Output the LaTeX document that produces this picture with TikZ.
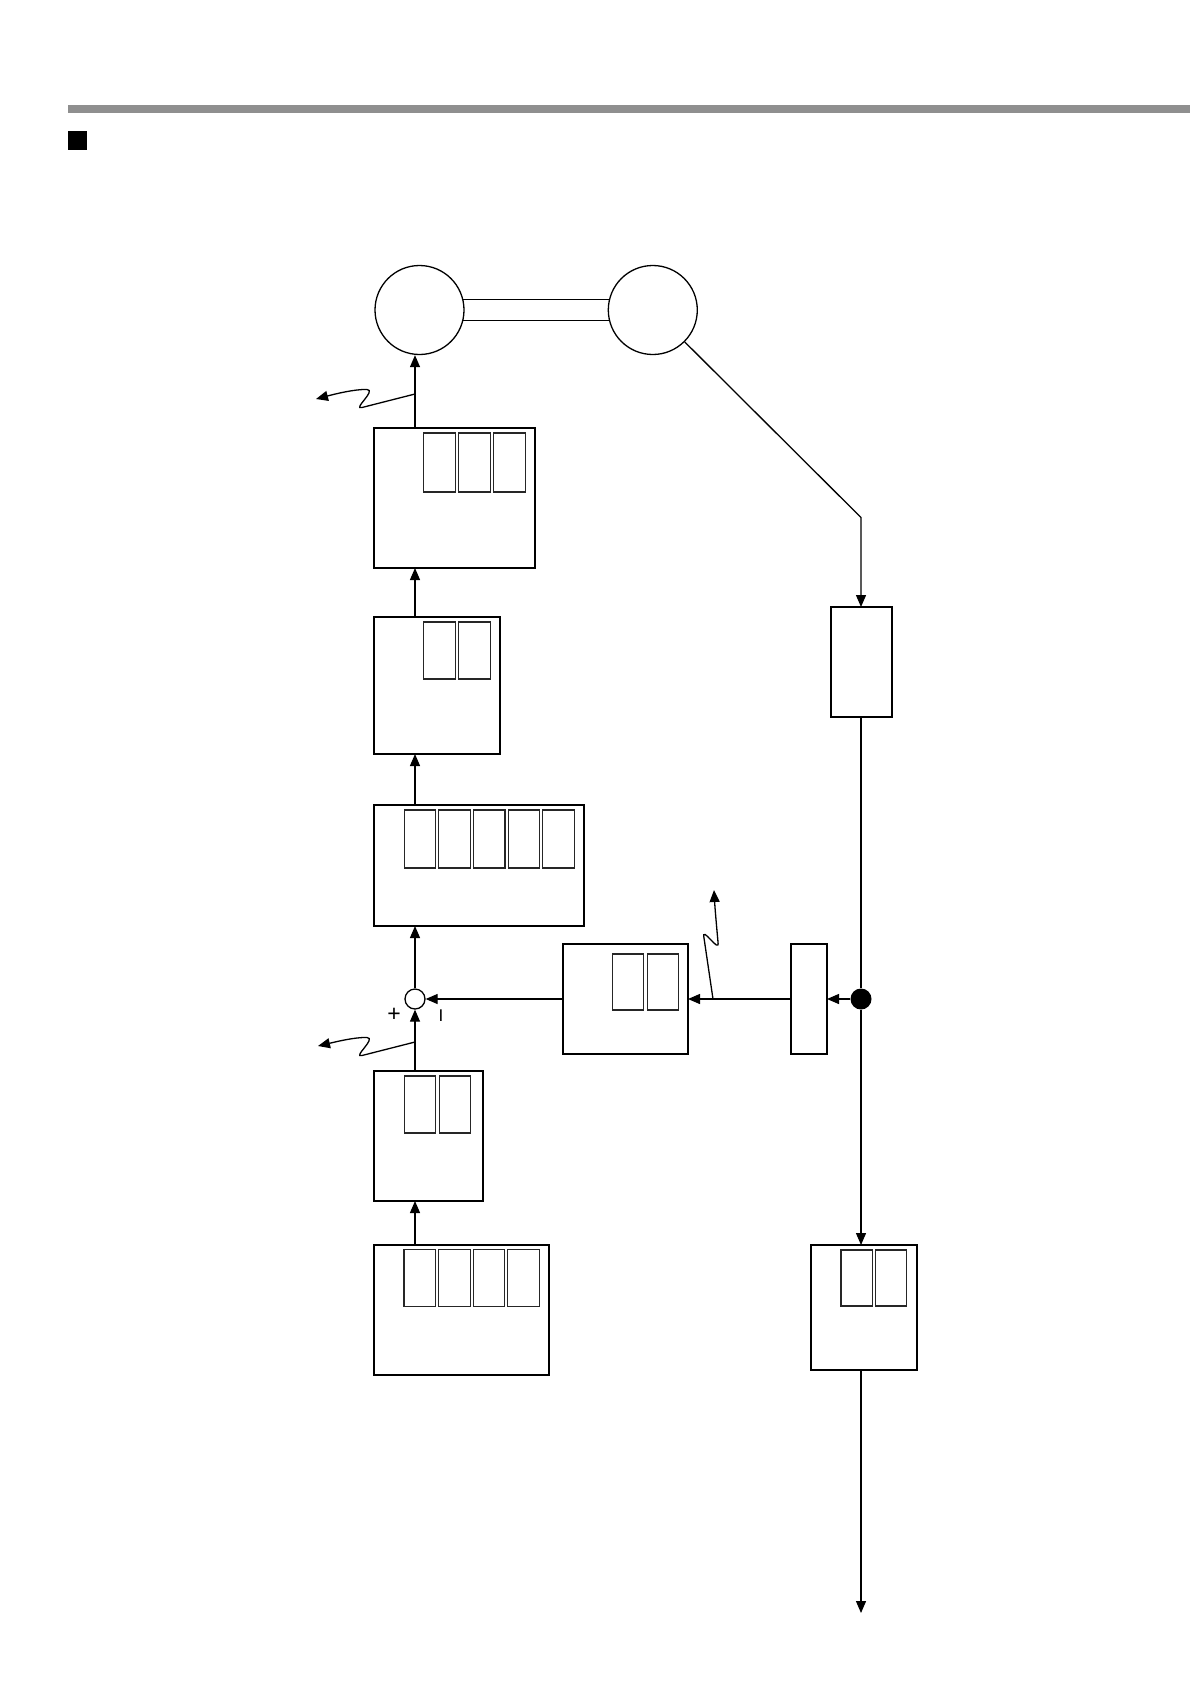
\documentclass[tikz,border=0pt]{standalone}
\usepackage{fontspec}
\setmainfont{Liberation Sans}
\usetikzlibrary{arrows.meta, positioning, calc}

\begin{document}
\begin{tikzpicture}[
    x=1pt, y=-1pt,
    box/.style={draw, line width=1.3pt, inner sep=0pt, outer sep=0pt,
                anchor=north west},
    wheel/.style={draw, circle, fill=white, line width=1.3pt,
                  inner sep=0pt, minimum size=89pt},
    cell/.style={draw=black!85, line width=1.1pt},
    arr/.style={-{Triangle[length=12pt, width=10pt]}, line width=1.3pt},
    squig/.style={-{Triangle[length=12pt, width=10pt]}, line width=1.3pt}]

  \useasboundingbox (0,0) rectangle (1190,1684);

  % header
  \fill[black!44] (68,105) rectangle (1190,112.5);
  \fill (68,131) rectangle (87,150);

  % wheels and shaft
  \node[draw, line width=1.3pt, inner sep=0pt,
        minimum width=233pt, minimum height=21.4pt] (shaft) at (536,310) {};
  \node[wheel] (lwheel) at (419.5,310) {};
  \node[wheel] (rwheel) at (652.8,310) {};

  % forward path
  \node[box, minimum width=161pt, minimum height=140pt] (drv)  at (374,428) {};
  \node[box, minimum width=126pt, minimum height=137pt] (amp)  at (374,617) {};
  \node[box, minimum width=210pt, minimum height=121pt] (cmp)  at (374,805) {};
  \node[draw, circle, line width=1.3pt, inner sep=0pt,
        minimum size=20pt] (sum) at (415,999) {};
  \node[box, minimum width=109pt, minimum height=130pt] (filt) at (374,1071) {};
  \node[box, minimum width=175pt, minimum height=130pt] (ref)  at (374,1245) {};

  \node[font=\fontsize{23}{23}\selectfont] (plus)  at (394,1015) {+};
  \node[font=\fontsize{17}{17}\selectfont] (minus) at (441,1016) {I};

  % feedback path
  \node[box, minimum width=125pt, minimum height=110pt] (fb)  at (563,944) {};
  \node[box, minimum width=36pt,  minimum height=110pt] (det) at (791,944) {};
  \node[circle, fill, inner sep=0pt, minimum size=21pt] (tap) at (861,999) {};

  % sensor side
  \node[box, minimum width=61pt,  minimum height=110pt] (sen) at (831,607) {};
  \node[box, minimum width=106pt, minimum height=125pt] (out) at (811,1245) {};
  \coordinate (bend) at (861,517.5);
  \coordinate (end)  at (861,1613);

  % cells
  \foreach \i in {0,1,2}
    \draw[cell] ($(drv.north west)+(49.3+35*\i,5)$) rectangle ++(32,59);
  \foreach \i in {0,1}
    \draw[cell] ($(amp.north west)+(49.3+35*\i,5)$) rectangle ++(32,57);
  \foreach \i in {0,...,4}
    \draw[cell] ($(cmp.north west)+(30.3+34.6*\i,5)$) rectangle ++(31.5,58);
  \foreach \i in {0,1}
    \draw[cell] ($(fb.north west)+(49.5+34.6*\i,10)$) rectangle ++(31,56);
  \foreach \i in {0,1}
    \draw[cell] ($(filt.north west)+(30.3+35*\i,5)$) rectangle ++(31,57);
  \foreach \i in {0,...,3}
    \draw[cell] ($(ref.north west)+(30+34.6*\i,4.5)$) rectangle ++(31.5,57);
  \foreach \i in {0,1}
    \draw[cell] ($(out.north west)+(30+34.4*\i,5)$) rectangle ++(31.5,56);

  % connectors
  \draw[arr] (sum |- drv.north) -- (sum |- lwheel.south);
  \draw[arr] (sum |- amp.north) -- (sum |- drv.south);
  \draw[arr] (sum |- cmp.north) -- (sum |- amp.south);
  \draw[arr] (sum.north) -- (sum |- cmp.south);
  \draw[arr] (sum |- filt.north) -- (sum.south);
  \draw[arr] (sum |- ref.north) -- (sum |- filt.south);
  \draw[arr] (fb.west) -- (sum.east);
  \draw[arr] (det.west) -- (fb.east);
  \draw[arr] (tap.west) -- (det.east);
  \draw[arr] (rwheel.south east) -- (bend) -- (bend |- sen.north);
  \draw[line width=1.3pt] (tap |- sen.south) -- (tap.north);
  \draw[arr] (tap.south) -- (tap |- out.north);
  \draw[arr] (tap |- out.south) -- (end);

  % disturbances
  \coordinate (w1) at (415,394);
  \coordinate (w2) at (415,1042);
  \coordinate (w3) at (713,999);
  \draw[squig, shift={(w1)}] (0,0) -- (-53,13.5)
    .. controls (-63,16) and (-38,-4) .. (-48,-4.5)
    .. controls (-60,-5) and (-80,0) .. (-99,5);
  \draw[squig, shift={(w2)}] (0,0) -- (-53,13.5)
    .. controls (-63,16) and (-38,-4) .. (-48,-4.5)
    .. controls (-60,-5) and (-80,0) .. (-97,4);
  \draw[squig, shift={(w3)}] (0,0) -- (-9,-61)
    .. controls (-12,-75) and (7,-44) .. (5,-57)
    .. controls (4,-68) and (2,-90) .. (1,-109);
\end{tikzpicture}
\end{document}
